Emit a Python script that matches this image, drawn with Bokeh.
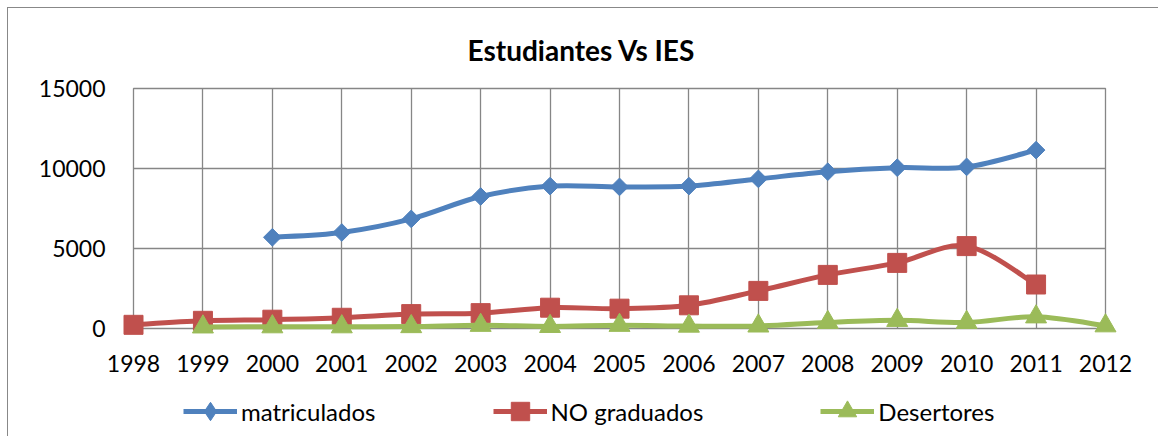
import numpy as np
from bokeh.plotting import figure
from bokeh.layouts import column
from bokeh.models import ColumnDataSource, FixedTicker, Legend, LegendItem, Range1d
from bokeh.embed import file_html
from bokeh.resources import INLINE

# ---------------- data ----------------
years = [1998, 1999, 2000, 2001, 2002, 2003, 2004, 2005, 2006, 2007, 2008, 2009, 2010, 2011, 2012]
matriculados = [None, None, 5700, 6000, 6850, 8250, 8900, 8850, 8900, 9350, 9800, 10050, 10100, 11150, None]
no_graduados = [230, 480, 550, 670, 900, 960, 1300, 1240, 1450, 2350, 3350, 4100, 5150, 2750, None]
desertores = [None, 100, 110, 110, 120, 200, 130, 200, 150, 160, 380, 510, 380, 730, 170]
y_ticks = [0, 5000, 10000, 15000]
series_names = ["matriculados", "NO graduados", "Desertores"]
title_text = "Estudiantes Vs IES"

# ---------------- styles ----------------
FONT = "Lato"
COLORS = ["#4F81BD", "#C0504D", "#9BBB59"]
GRID = "#868686"
MARKERS = [("square", 12.5, np.pi / 4), ("square", 19, 0.0), ("triangle", 21, 0.0)]
LEGEND_MARKERS = ["diamond", "square", "triangle"]


def clean(xs, ys):
    pts = [(x, y) for x, y in zip(xs, ys) if y is not None]
    return np.array([p[0] for p in pts], float), np.array([p[1] for p in pts], float)


def smooth_segments(x, y):
    """Bezier control points (Excel-style smoothing) for consecutive points."""
    n = len(x)
    d = dict(x0=[], y0=[], x1=[], y1=[], cx0=[], cy0=[], cx1=[], cy1=[])
    for i in range(n - 1):
        i0 = max(i - 1, 0)
        i3 = min(i + 2, n - 1)
        d["x0"].append(x[i]); d["y0"].append(y[i])
        d["x1"].append(x[i + 1]); d["y1"].append(y[i + 1])
        d["cx0"].append(x[i] + (x[i + 1] - x[i0]) / 6.0)
        d["cy0"].append(y[i] + (y[i + 1] - y[i0]) / 6.0)
        d["cx1"].append(x[i + 1] - (x[i3] - x[i]) / 6.0)
        d["cy1"].append(y[i + 1] - (y[i3] - y[i]) / 6.0)
    return d


# ---------------- main chart ----------------
p = figure(
    width=1150, height=368,
    x_range=Range1d(years[0], years[-1]),
    y_range=Range1d(y_ticks[0], y_ticks[-1]),
    output_backend="svg", toolbar_location=None,
    min_border_left=125, min_border_right=53, min_border_top=79, min_border_bottom=48,
    title=title_text,
)

p.title.align = "left"
p.title.offset = 334
p.title.text_font = FONT
p.title.text_font_size = "28px"
p.title.text_font_style = "bold"
p.title.text_color = "black"
p.title.standoff = 44

p.outline_line_color = GRID
p.outline_line_width = 1.3

for ax in (p.xaxis, p.yaxis):
    ax.axis_line_color = None
    ax.major_tick_line_color = None
    ax.minor_tick_line_color = None
    ax.major_label_text_font = FONT
    ax.major_label_text_font_size = "23px"
    ax.major_label_text_color = "black"

p.xaxis.ticker = FixedTicker(ticks=years)
p.yaxis.ticker = FixedTicker(ticks=y_ticks)
p.xaxis.major_label_standoff = 20
p.yaxis.major_label_standoff = 22

p.xgrid.ticker = FixedTicker(ticks=years)
p.ygrid.ticker = FixedTicker(ticks=y_ticks)
for g in (p.xgrid, p.ygrid):
    g.grid_line_color = GRID
    g.grid_line_width = 1.3

series = []
for vals, color, (mk, size, ang) in zip([matriculados, no_graduados, desertores], COLORS, MARKERS):
    x, y = clean(years, vals)
    series.append((x, y))
    seg = ColumnDataSource(smooth_segments(x, y))
    p.bezier(x0="x0", y0="y0", x1="x1", y1="y1", cx0="cx0", cy0="cy0", cx1="cx1", cy1="cy1",
             source=seg, line_color=color, line_width=5, level="overlay")
    p.scatter(x=x, y=y, marker=mk, size=size, angle=ang, fill_color=color,
              line_color=color, line_width=1, level="overlay")

# ---------------- legend strip (same series, data kept out of its view) ----------------
lg = figure(
    width=1150, height=60,
    x_range=Range1d(0, 1), y_range=Range1d(0, 1),
    x_axis_type=None, y_axis_type=None,
    output_backend="svg", toolbar_location=None,
    min_border=0,
)
lg.grid.visible = False
lg.outline_line_color = None

items = []
for name, color, mk, (x, y) in zip(series_names, COLORS, LEGEND_MARKERS, series):
    lr = lg.line(x=x, y=y, line_color=color, line_width=5)
    sr = lg.scatter(x=x, y=y, marker=mk, fill_color=color, line_color=color, line_width=1)
    items.append(LegendItem(label=name, renderers=[lr, sr]))

legend = Legend(
    items=items, orientation="horizontal", location=(50, 2),
    spacing=117, glyph_width=54, glyph_height=46, label_standoff=4,
    label_text_font=FONT, label_text_font_size="24px", label_text_color="black",
    border_line_color=None, background_fill_alpha=0, margin=0, padding=0,
)
lg.add_layout(legend, "center")

page = column(
    p, lg, spacing=0,
    margin=(7, 0, 0, 7),
    styles={"border-left": "1px solid #888888", "border-top": "1px solid #888888"},
)

open("out.html", "w").write(file_html(page, INLINE))
